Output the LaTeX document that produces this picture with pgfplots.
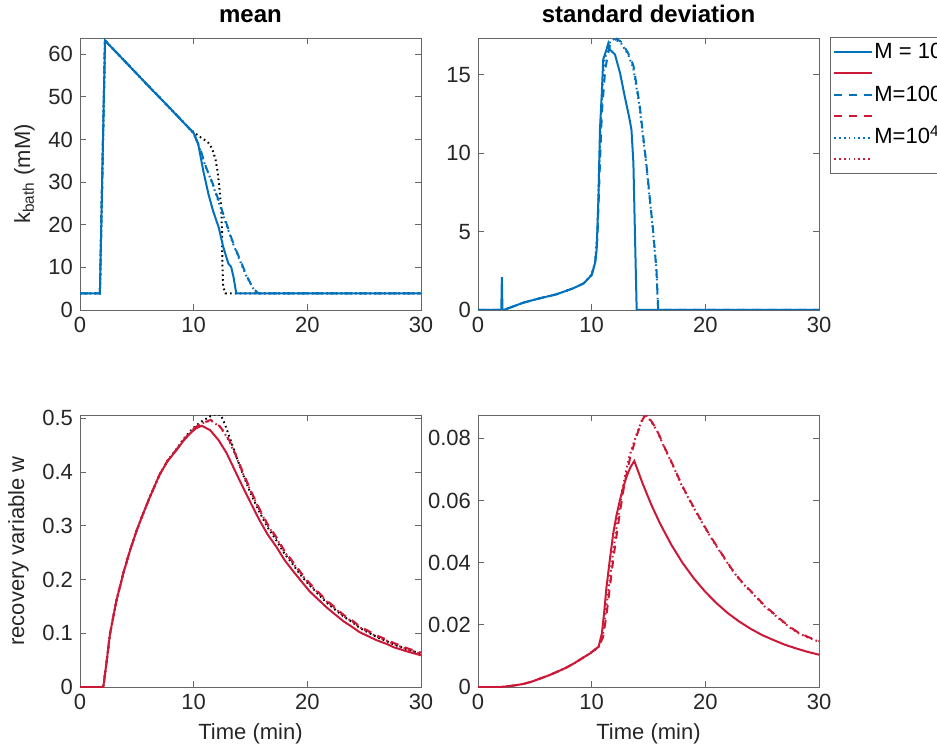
\documentclass[border=0pt]{standalone}
\usepackage{fontspec}
\setmainfont{Liberation Sans}
\usepackage{pgfplots}
\pgfplotsset{compat=1.18}
\definecolor{mblue}{rgb}{0.0,0.447,0.741}
\definecolor{mred}{rgb}{0.80,0.10,0.22}
\pgfplotsset{
  myax/.style={
    width=170.5pt, height=136pt, scale only axis,
    xmin=0, xmax=30, xtick={0,10,20,30},
    tick align=inside, major tick length=3pt,
    axis line style={black!60}, every tick/.style={black!60},
    tick label style={font=\fontsize{11}{13}\selectfont, text=black!85},
    label style={font=\fontsize{11}{13}\selectfont, text=black!85},
    title style={font=\bfseries\fontsize{12}{14}\selectfont, yshift=-2pt},
    /pgf/number format/assume math mode=true,
    /pgf/number format/fixed,
    scaled ticks=false,
    every axis plot/.append style={line width=1pt},
  },
  mdash/.style={dash pattern=on 4pt off 3.5pt},
  mdot/.style={dash pattern=on 0.8pt off 1.6pt},
}
\begin{document}
\begin{tikzpicture}
% ---------------- top left: mean k_bath
\begin{axis}[myax, at={(40pt,217.5pt)}, anchor=south west,
  ymin=0, ymax=63.8, ytick={0,10,20,30,40,50,60},
  title={mean}, ylabel={k\textsubscript{bath} (mM)}]
\addplot[black, mdot] coordinates {(0,3.9)(1.75,3.9)(2.2,63.2)(4,58.2)(6,52.6)(8,47.1)(9.5,42.9)(10,41.7)(10.5,40.7)(10.85,40.1)(11.3,39.2)(11.6,38.0)(11.9,35.6)(12.1,32.6)(12.25,29.0)(12.4,24.9)(12.5,18.6)(12.52,10.9)(12.6,5.4)(12.8,3.9)(30,3.9)};
\addplot[mblue, mdash] coordinates {(0,3.9)(1.75,3.9)(2.2,63.2)(4,58.2)(6,52.6)(8,47.1)(9.5,42.9)(10,41.5)(10.55,38.0)(11.1,33.4)(11.7,29.5)(12.3,24.9)(12.9,20.2)(13.5,15.5)(14.1,11.7)(14.7,7.8)(15.25,5.0)(15.7,3.9)(30,3.9)};
\addplot[mblue, mdot] coordinates {(0,3.9)(1.75,3.9)(2.2,63.2)(4,58.2)(6,52.6)(8,47.1)(9.5,42.9)(10,41.4)(10.5,38.2)(11.0,34.0)(11.6,30.0)(12.2,25.3)(12.8,20.6)(13.4,16.0)(14.0,12.0)(14.6,8.2)(15.2,5.2)(15.6,3.9)(30,3.9)};
\addplot[mblue] coordinates {(0,3.9)(1.75,3.9)(2.2,63.2)(4,58.2)(6,52.6)(8,47.1)(9.5,42.9)(10,41.5)(10.4,38.9)(10.85,32.6)(11.3,27.2)(11.7,23.3)(12.2,19.4)(12.6,14.8)(13.05,10.9)(13.3,10.1)(13.5,7.8)(13.75,3.9)(30,3.9)};
\end{axis}
% ---------------- top right: std k_bath
\begin{axis}[myax, at={(239pt,217.5pt)}, anchor=south west,
  ymin=0, ymax=17.35, ytick={0,5,10,15},
  title={standard deviation},
  legend style={at={(1,1)}, anchor=north west, xshift=5.5pt, yshift=0.5pt,
    draw=black!60, font=\fontsize{11}{13}\selectfont, inner xsep=1.5pt, inner ysep=2pt,
    row sep=0pt, nodes={inner sep=0.5pt, text height=8pt, text depth=1.7pt}},
  legend cell align=left,
  legend image code/.code={\draw[#1, line width=1pt] (0pt,0pt) -- (19pt,0pt);}]
\addplot[mblue, mdash, forget plot] coordinates {(0,0)(2.05,0)(2.25,0)(3,0.2)(4,0.47)(5.45,0.75)(6.9,1.0)(8.4,1.39)(9.3,1.7)(10,2.24)(10.3,3.0)(10.5,4.5)(10.73,9.4)(10.9,12.6)(11.2,15.4)(11.6,16.9)(12.2,17.3)(12.6,17.1)(13.2,16.4)(13.67,15.6)(14.2,13.2)(14.8,9.4)(15.4,5.1)(15.7,2.56)(15.85,0)(30,0)};
\addplot[mblue, mdot, forget plot] coordinates {(0,0)(2.05,0)(2.25,0)(3,0.2)(4,0.47)(5.45,0.75)(6.9,1.0)(8.4,1.39)(9.3,1.7)(10,2.24)(10.3,3.1)(10.5,5.0)(10.7,10.0)(10.85,13.0)(11.1,15.8)(11.5,17.0)(12.0,17.3)(12.6,17.0)(13.2,16.3)(13.67,15.4)(14.2,13.0)(14.8,9.3)(15.4,5.0)(15.7,2.5)(15.85,0)(30,0)};
\addplot[mblue, forget plot] coordinates {(0,0)(2.05,0)(2.1,2.1)(2.15,0)(2.25,0)(3,0.2)(4,0.47)(5.45,0.75)(6.9,1.0)(8.4,1.39)(9.3,1.7)(10,2.24)(10.3,3.0)(10.44,3.84)(10.6,7.25)(10.73,11.5)(10.88,13.65)(11.02,16.0)(11.3,16.6)(11.46,17.0)(11.6,16.6)(11.76,16.5)(12.05,16.3)(12.5,15.1)(12.9,13.65)(13.3,12.3)(13.5,11.5)(13.67,9.4)(13.8,5.1)(13.96,0)(30,0)};
\addlegendimage{mblue}\addlegendentry{M = 10}
\addlegendimage{mred}\addlegendentry{}
\addlegendimage{mblue, mdash}\addlegendentry{M=100}
\addlegendimage{mred, mdash}\addlegendentry{}
\addlegendimage{mblue, mdot}\addlegendentry{M=10\textsuperscript{4}}
\addlegendimage{mred, mdot}\addlegendentry{}
\end{axis}
% ---------------- bottom left: mean w
\begin{axis}[myax, at={(40pt,29pt)}, anchor=south west,
  ymin=0, ymax=0.506, ytick={0,0.1,0.2,0.3,0.4,0.5},
  /pgf/number format/precision=1,
  xlabel={Time (min)}, ylabel={recovery variable w}]
\addplot[black, mdot] coordinates {(0,0)(2.05,0)(2.3,0.04)(2.64,0.099)(3.2,0.16)(3.8,0.211)(4.4,0.254)(5.0,0.292)(5.6,0.325)(6.16,0.354)(7.0,0.395)(7.7,0.421)(8.5,0.443)(9.1,0.461)(9.7,0.476)(10.2,0.486)(10.7,0.494)(11.5,0.504)(12.0,0.508)(12.4,0.506)(12.8,0.486)(13.2,0.462)(13.8,0.426)(14.4,0.392)(15.1,0.356)(15.8,0.325)(16.5,0.297)(17.3,0.272)(18.0,0.248)(18.8,0.226)(19.5,0.206)(20.2,0.189)(21.0,0.172)(21.7,0.157)(22.5,0.143)(23.2,0.131)(24.0,0.120)(24.6,0.110)(25.4,0.101)(26.1,0.093)(27.0,0.085)(27.6,0.079)(28.8,0.070)(30,0.062)};
\addplot[mred, mdash] coordinates {(0,0)(2.05,0)(2.3,0.04)(2.64,0.099)(3.2,0.16)(3.8,0.211)(4.4,0.254)(5.0,0.292)(5.6,0.325)(6.16,0.354)(7.0,0.395)(7.7,0.421)(8.5,0.442)(9.1,0.459)(9.7,0.474)(10.2,0.484)(10.7,0.490)(11.5,0.497)(12.3,0.485)(12.8,0.471)(13.2,0.456)(13.8,0.427)(14.4,0.396)(15.1,0.362)(15.8,0.331)(16.5,0.303)(17.3,0.278)(18.0,0.253)(18.8,0.231)(19.5,0.211)(20.2,0.193)(21.0,0.176)(21.7,0.161)(22.5,0.147)(23.2,0.134)(24.0,0.123)(24.6,0.113)(25.4,0.104)(26.1,0.096)(27.0,0.088)(27.6,0.082)(28.8,0.072)(30,0.064)};
\addplot[mred, mdot] coordinates {(0,0)(2.05,0)(2.3,0.04)(2.64,0.099)(3.2,0.16)(3.8,0.211)(4.4,0.254)(5.0,0.292)(5.6,0.325)(6.16,0.354)(7.0,0.395)(7.7,0.421)(8.5,0.442)(9.1,0.459)(9.7,0.474)(10.2,0.484)(10.7,0.490)(11.5,0.496)(12.3,0.484)(12.8,0.469)(13.2,0.454)(13.8,0.425)(14.4,0.394)(15.1,0.360)(15.8,0.329)(16.5,0.301)(17.3,0.276)(18.0,0.251)(18.8,0.229)(19.5,0.209)(20.2,0.191)(21.0,0.174)(21.7,0.159)(22.5,0.145)(23.2,0.132)(24.0,0.121)(24.6,0.111)(25.4,0.102)(26.1,0.094)(27.0,0.086)(27.6,0.080)(28.8,0.070)(30,0.062)};
\addplot[mred] coordinates {(0,0)(2.05,0)(2.3,0.04)(2.64,0.099)(3.2,0.16)(3.8,0.211)(4.4,0.254)(5.0,0.292)(5.6,0.325)(6.16,0.354)(7.0,0.395)(7.7,0.420)(8.5,0.441)(9.1,0.458)(9.7,0.472)(10.2,0.481)(10.7,0.486)(11.44,0.478)(12.2,0.459)(12.9,0.435)(13.6,0.404)(14.37,0.370)(15.1,0.339)(15.8,0.310)(16.5,0.284)(17.3,0.260)(18.0,0.236)(18.77,0.215)(19.5,0.196)(20.2,0.178)(21.0,0.162)(21.7,0.148)(22.5,0.134)(23.2,0.122)(24.0,0.111)(24.6,0.102)(25.4,0.094)(26.1,0.087)(27.0,0.080)(27.6,0.074)(28.8,0.066)(30,0.059)};
\end{axis}
% ---------------- bottom right: std w
\begin{axis}[myax, at={(239pt,29pt)}, anchor=south west,
  ymin=0, ymax=0.0875, ytick={0,0.02,0.04,0.06,0.08},
  /pgf/number format/precision=2,
  xlabel={Time (min)}]
\addplot[mred, mdash] coordinates {(0,0)(2,0)(2.5,0.0002)(3.2,0.0005)(4,0.001)(4.7,0.0017)(5.45,0.0027)(6.2,0.0037)(6.9,0.0048)(7.7,0.0061)(8.4,0.0075)(9.1,0.0091)(9.85,0.0108)(10.6,0.0129)(11.0,0.016)(11.3,0.023)(11.6,0.032)(11.9,0.041)(12.2,0.049)(12.5,0.0565)(12.8,0.0635)(13.1,0.069)(13.4,0.074)(13.95,0.0808)(14.5,0.0862)(14.8,0.0877)(15.2,0.0858)(15.7,0.0830)(16.4,0.0772)(17.2,0.0710)(17.9,0.0652)(18.65,0.0600)(19.4,0.0551)(20.1,0.0506)(20.85,0.0462)(21.6,0.0420)(22.3,0.0381)(23.05,0.0345)(23.8,0.0316)(24.5,0.0290)(25.2,0.0262)(26,0.0237)(26.7,0.0215)(27.4,0.0194)(28.2,0.0175)(29.1,0.0160)(30,0.0148)};
\addplot[mred, mdot] coordinates {(0,0)(2,0)(2.5,0.0002)(3.2,0.0005)(4,0.001)(4.7,0.0017)(5.45,0.0027)(6.2,0.0037)(6.9,0.0048)(7.7,0.0061)(8.4,0.0075)(9.1,0.0091)(9.85,0.0108)(10.6,0.0129)(10.95,0.016)(11.2,0.023)(11.5,0.032)(11.8,0.041)(12.1,0.049)(12.4,0.0565)(12.7,0.0635)(13.0,0.069)(13.3,0.074)(13.9,0.0808)(14.45,0.0862)(14.75,0.0877)(15.2,0.0855)(15.7,0.0828)(16.4,0.0770)(17.2,0.0708)(17.9,0.0650)(18.65,0.0598)(19.4,0.0549)(20.1,0.0504)(20.85,0.0460)(21.6,0.0418)(22.3,0.0379)(23.05,0.0343)(23.8,0.0314)(24.5,0.0288)(25.2,0.0260)(26,0.0235)(26.7,0.0213)(27.4,0.0192)(28.2,0.0173)(29.1,0.0158)(30,0.0146)};
\addplot[mred] coordinates {(0,0)(2,0)(2.5,0.0002)(3.2,0.0005)(4,0.001)(4.7,0.0017)(5.45,0.0027)(6.2,0.0037)(6.9,0.0048)(7.7,0.0061)(8.4,0.0075)(9.1,0.0091)(9.85,0.0108)(10.6,0.0129)(10.9,0.0172)(11.1,0.024)(11.3,0.032)(11.6,0.041)(11.9,0.0495)(12.2,0.0555)(12.5,0.0603)(12.8,0.0645)(13.1,0.0680)(13.4,0.0706)(13.75,0.0727)(14.5,0.0653)(15.25,0.0586)(16,0.0527)(17,0.0458)(18,0.0399)(19,0.0349)(20,0.0306)(21,0.0269)(22,0.0237)(23,0.0210)(24,0.0187)(25,0.0167)(26,0.0151)(27,0.0136)(28,0.0124)(29,0.0113)(30,0.0104)};
\end{axis}
\pgfresetboundingbox
\useasboundingbox (0,0) rectangle (468.5pt,372.5pt);
\end{tikzpicture}
\end{document}
